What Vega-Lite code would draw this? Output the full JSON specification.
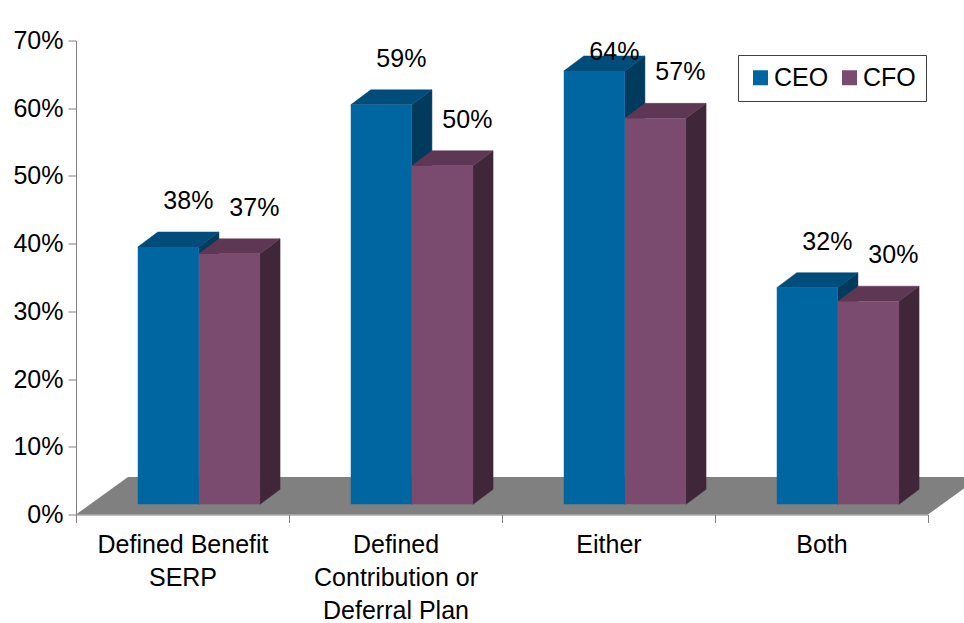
{
  "$schema": "https://vega.github.io/schema/vega-lite/v6.json",
  "autosize": "none",
  "width": 852,
  "height": 474,
  "padding": {"left": 76, "top": 40.5, "right": 36, "bottom": 108.5},
  "background": "white",
  "config": {
    "view": {"stroke": null},
    "font": "Liberation Sans",
    "axis": {"grid": false, "labelFlush": false, "labelOverlap": false, "labelBound": false, "domainColor": "#808080", "tickColor": "#808080", "labelColor": "#000000", "labelFontSize": 25, "labelFont": "Liberation Sans", "tickSize": 8, "title": null}
  },
  "data": {
    "values": [
      {"category": "Defined Benefit SERP", "series": "CEO", "value": 38},
      {"category": "Defined Benefit SERP", "series": "CFO", "value": 37},
      {"category": "Defined Contribution or Deferral Plan", "series": "CEO", "value": 59},
      {"category": "Defined Contribution or Deferral Plan", "series": "CFO", "value": 50},
      {"category": "Either", "series": "CEO", "value": 64},
      {"category": "Either", "series": "CFO", "value": 57},
      {"category": "Both", "series": "CEO", "value": 32},
      {"category": "Both", "series": "CFO", "value": 30}
    ]
  },
  "transform": [
    {"calculate": "indexof(['Defined Benefit SERP', 'Defined Contribution or Deferral Plan', 'Either', 'Both'], datum.category)", "as": "ci"},
    {"calculate": "datum.series == 'CEO' ? 0 : 1", "as": "si"},
    {"calculate": "datum.ci + 0.29 + datum.si * 0.287", "as": "xl"},
    {"calculate": "datum.xl + 0.287", "as": "xr"},
    {"calculate": "1.5", "as": "base"},
    {"calculate": "datum.base + datum.value", "as": "top"},
    {"calculate": "datum.category + '|' + datum.series", "as": "bar"}
  ],
  "layer": [
    {
      "description": "Oblique floor of the 3-D plot",
      "transform": [
        {"aggregate": [{"op": "count", "as": "n"}]},
        {"calculate": "0", "as": "k0"},
        {"calculate": "1", "as": "k1"},
        {"fold": ["k0", "k1"], "as": ["corner", "k"]},
        {"calculate": "datum.k * 5.54", "as": "fy"},
        {"calculate": "datum.k * 0.244", "as": "fx"},
        {"calculate": "4 + datum.k * 0.244", "as": "fx2"}
      ],
      "mark": {"type": "area", "orient": "horizontal", "color": "#808080"},
      "encoding": {
        "y": {
          "field": "fy", "type": "quantitative", "stack": null,
          "scale": {"domain": [0, 70], "nice": false, "zero": false},
          "axis": {"values": [0, 10, 20, 30, 40, 50, 60, 70], "labelExpr": "datum.value + '%'", "labelPadding": 5, "title": null}
        },
        "x": {
          "field": "fx", "type": "quantitative", "stack": null,
          "scale": {"domain": [0, 4], "nice": false, "zero": false},
          "axis": {
            "values": [0, 0.5, 1, 1.5, 2, 2.5, 3, 3.5, 4],
            "labelExpr": "datum.value == 0.5 ? ['Defined Benefit', 'SERP'] : datum.value == 1.5 ? ['Defined', 'Contribution or', 'Deferral Plan'] : datum.value == 2.5 ? 'Either' : datum.value == 3.5 ? 'Both' : ''",
            "tickOpacity": {"condition": {"test": "datum.value % 1 != 0", "value": 0}, "value": 1},
            "labelLineHeight": 33,
            "labelPadding": 10,
            "title": null
          }
        },
        "x2": {"field": "fx2"}
      }
    },
    {
      "description": "Right-hand side faces of the bars",
      "transform": [
        {"calculate": "0", "as": "k0"},
        {"calculate": "1", "as": "k1"},
        {"fold": ["k0", "k1"], "as": ["corner", "k"]},
        {"calculate": "datum.xr + datum.k * 0.094", "as": "sx"},
        {"calculate": "datum.base + datum.k * 2.215", "as": "sy"},
        {"calculate": "datum.top + datum.k * 2.215", "as": "sy2"}
      ],
      "mark": {"type": "area", "orient": "vertical", "strokeWidth": 0.5},
      "encoding": {
        "x": {"field": "sx", "type": "quantitative", "stack": null, "axis": {"title": null}},
        "y": {"field": "sy", "type": "quantitative", "stack": null, "axis": {"title": null}},
        "y2": {"field": "sy2"},
        "detail": {"field": "bar"},
        "color": {"condition": {"test": "datum.series == 'CEO'", "value": "#003A5C"}, "value": "#3F2739"},
        "stroke": {"condition": {"test": "datum.series == 'CEO'", "value": "#003A5C"}, "value": "#3F2739"}
      }
    },
    {
      "description": "Top faces of the bars",
      "transform": [
        {"calculate": "0", "as": "k0"},
        {"calculate": "1", "as": "k1"},
        {"fold": ["k0", "k1"], "as": ["corner", "k"]},
        {"calculate": "datum.top + datum.k * 2.215", "as": "ty"},
        {"calculate": "datum.xl + datum.k * 0.094", "as": "tx"},
        {"calculate": "datum.xr + datum.k * 0.094", "as": "tx2"}
      ],
      "mark": {"type": "area", "orient": "horizontal", "strokeWidth": 0.5},
      "encoding": {
        "y": {"field": "ty", "type": "quantitative", "stack": null, "axis": {"title": null}},
        "x": {"field": "tx", "type": "quantitative", "stack": null, "axis": {"title": null}},
        "x2": {"field": "tx2"},
        "detail": {"field": "bar"},
        "color": {"condition": {"test": "datum.series == 'CEO'", "value": "#004C7A"}, "value": "#5D3753"},
        "stroke": {"condition": {"test": "datum.series == 'CEO'", "value": "#004C7A"}, "value": "#5D3753"}
      }
    },
    {
      "description": "Front faces of the bars",
      "mark": {"type": "rect"},
      "encoding": {
        "x": {"field": "xl", "type": "quantitative", "axis": {"title": null}},
        "x2": {"field": "xr"},
        "y": {"field": "base", "type": "quantitative", "axis": {"title": null}},
        "y2": {"field": "top"},
        "color": {
          "field": "series", "type": "nominal",
          "scale": {"domain": ["CEO", "CFO"], "range": ["#0066A1", "#7B4A6F"]},
          "legend": {
            "orient": "none", "legendX": 662, "legendY": 14.5, "direction": "horizontal", "title": null,
            "symbolType": "square", "symbolSize": 225, "symbolStrokeWidth": 0, "symbolOpacity": 1,
            "labelFontSize": 25, "labelFont": "Liberation Sans", "labelColor": "#000000",
            "strokeColor": "#404040", "fillColor": "#ffffff", "padding": 10, "columnPadding": 8, "labelOffset": 1
          }
        }
      }
    },
    {
      "description": "Value labels above the bars",
      "transform": [
        {"calculate": "(datum.xl + datum.xr) / 2 + (datum.si == 0 ? 0.094 : 0.117)", "as": "lx"},
        {"calculate": "min(datum.top + 6.8, 68.3)", "as": "ly"},
        {"calculate": "datum.value + '%'", "as": "label"}
      ],
      "mark": {"type": "text", "fontSize": 25, "font": "Liberation Sans", "color": "#000000", "align": "center", "baseline": "middle"},
      "encoding": {
        "x": {"field": "lx", "type": "quantitative", "axis": {"title": null}},
        "y": {"field": "ly", "type": "quantitative", "axis": {"title": null}},
        "text": {"field": "label"}
      }
    }
  ]
}
